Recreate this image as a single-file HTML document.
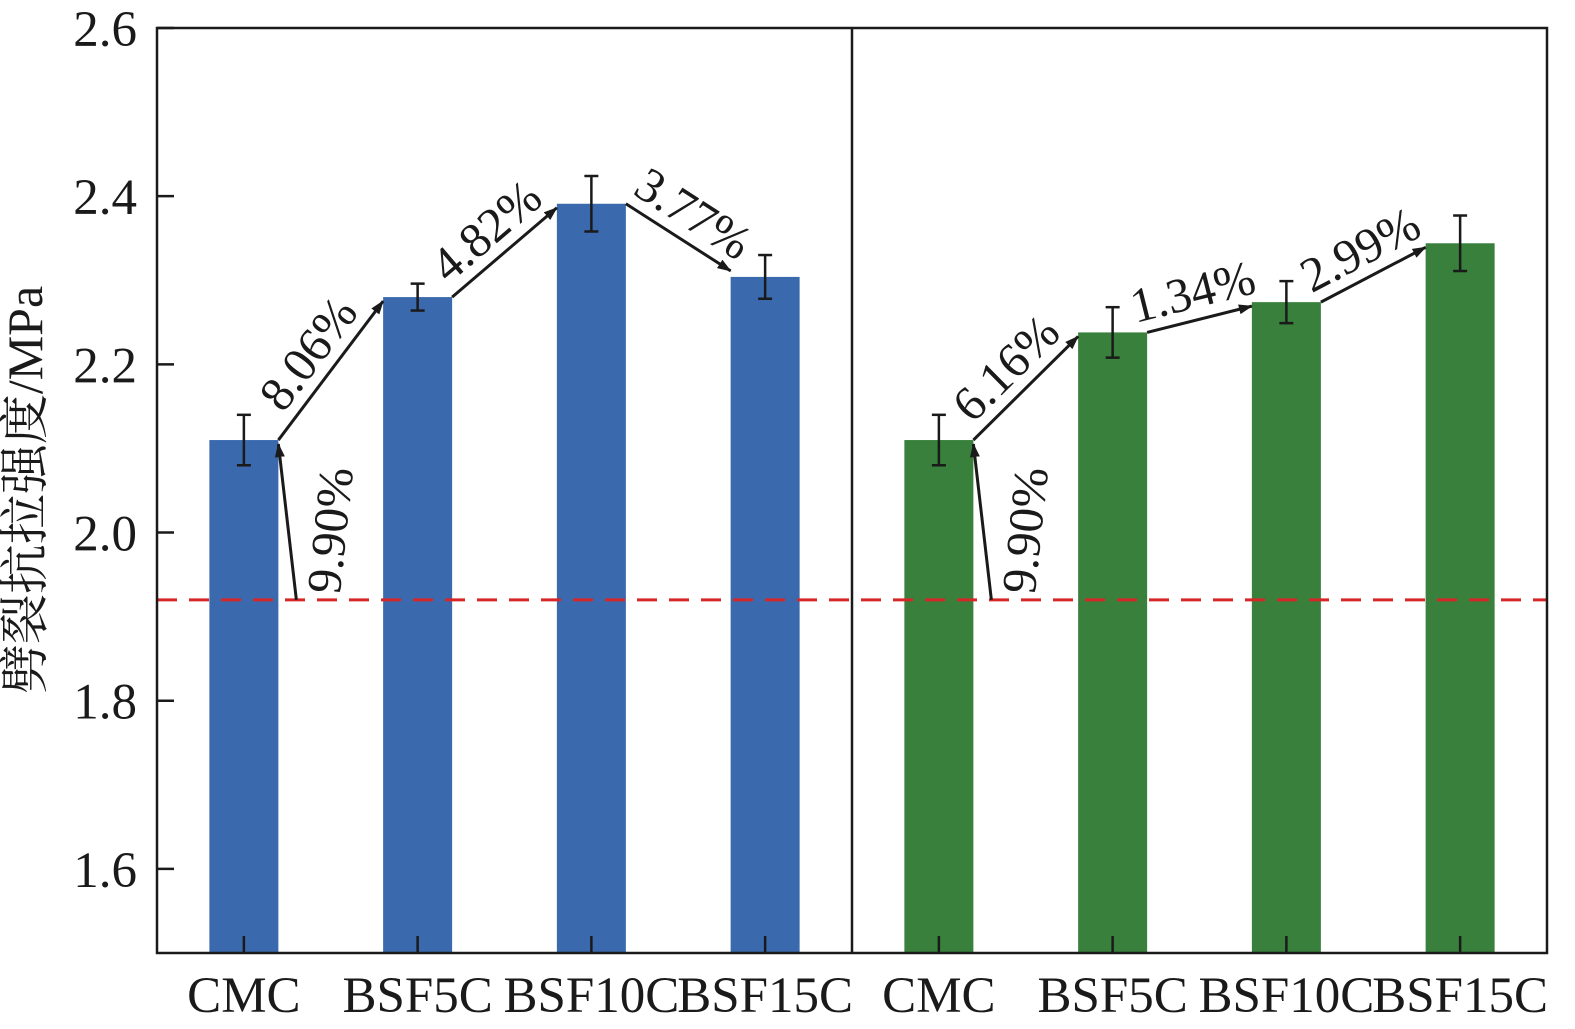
<!DOCTYPE html>
<html><head><meta charset="utf-8"><style>
html,body{margin:0;padding:0;background:#fff;overflow:hidden;width:1575px;height:1029px}
svg{display:block}
svg text{font-family:"Liberation Serif","Noto Serif CJK SC",serif;fill:#1a1a1a}
</style></head><body>
<svg id="chart" width="1575" height="1029" viewBox="0 0 1575 1029" xmlns="http://www.w3.org/2000/svg"></svg>
<script>
const categories=["CMC","BSF5C","BSF10C","BSF15C","CMC","BSF5C","BSF10C","BSF15C"];
const values=[2.11,2.28,2.391,2.304,2.11,2.238,2.274,2.344];
const errors=[0.03,0.016,0.033,0.026,0.03,0.03,0.025,0.033];
const colors=["#3a6aad","#3a6aad","#3a6aad","#3a6aad","#38803c","#38803c","#38803c","#38803c"];
const yTicks=[1.6,1.8,2.0,2.2,2.4,2.6];
const baseline=1.92;
const incLabels=["8.06%","4.82%","3.77%","6.16%","1.34%","2.99%"];
const incFrom=[0,1,2,4,5,6];
const baseLabels=["9.90%","9.90%"];
const baseIdx=[0,4];

const NS="http://www.w3.org/2000/svg";
const svg=document.getElementById('chart');
const L=157,R=1547,T=28,B=953,yMin=1.5,yMax=2.6;
const y=v=>B-(v-yMin)/(yMax-yMin)*(B-T);
const slot=(R-L)/categories.length;
const x=i=>L+slot*(i+0.5);
const bw=69;
function el(tag,a,parent){const e=document.createElementNS(NS,tag);for(const k in a)e.setAttribute(k,a[k]);(parent||svg).appendChild(e);return e;}
const defs=el('defs',{});
const m=el('marker',{id:'ah',markerWidth:14,markerHeight:10,refX:13,refY:5,orient:'auto',markerUnits:'userSpaceOnUse'},defs);
el('path',{d:'M0,0 L14,5 L0,10 Z',fill:'#1a1a1a'},m);

categories.forEach((c,i)=>{
  const b=el('rect',{x:x(i)-bw/2,y:y(values[i]),width:bw,height:B-y(values[i]),fill:colors[i]});
  
  
  const g=el('g',{stroke:'#1a1a1a','stroke-width':2.5});
  
  
  const t=y(values[i]+errors[i]),bo=y(values[i]-errors[i]);
  el('line',{x1:x(i),x2:x(i),y1:t,y2:bo},g);
  el('line',{x1:x(i)-7,x2:x(i)+7,y1:t,y2:t},g);
  el('line',{x1:x(i)-7,x2:x(i)+7,y1:bo,y2:bo},g);
  const tk=el('line',{x1:x(i),x2:x(i),y1:B,y2:B-17,stroke:'#1a1a1a','stroke-width':2.5});
  
  
  const lb=el('text',{x:x(i),y:1012,'text-anchor':'middle','font-size':51});
  lb.textContent=c;
  
  
});
const bl=el('line',{x1:L,x2:R,y1:y(baseline),y2:y(baseline),stroke:'#d62728','stroke-width':3,'stroke-dasharray':'20,12'});


const ax=el('rect',{x:L,y:T,width:R-L,height:B-T,fill:'none',stroke:'#1a1a1a','stroke-width':2.5});


const dv=el('line',{x1:(L+R)/2,x2:(L+R)/2,y1:T,y2:B,stroke:'#1a1a1a','stroke-width':2.5});


yTicks.forEach(v=>{
  const tk=el('line',{x1:L,x2:L+17,y1:y(v),y2:y(v),stroke:'#1a1a1a','stroke-width':2.5});
  
  
  const t=el('text',{x:137,y:y(v)+18,'text-anchor':'end','font-size':51});
  t.textContent=v.toFixed(1);
  
  
});
const yt=el('text',{transform:'translate(42,490) rotate(-90)','text-anchor':'middle','font-size':50});
yt.textContent='劈裂抗拉强度/MPa';


incFrom.forEach((i,k)=>{
  const x1=x(i)+bw/2,y1=y(values[i]),x2=x(i+1)-bw/2,y2=y(values[i+1])+(values[i+1]>values[i]?4:-6);
  const a=el('line',{x1,y1,x2,y2,stroke:'#1a1a1a','stroke-width':3,'marker-end':'url(#ah)'});
  
  
  const ang=Math.atan2(y2-y1,x2-x1)*180/Math.PI;
  const mx=(x1+x2)/2,my=(y1+y2)/2;
  const t=el('text',{transform:`translate(${mx},${my}) rotate(${ang}) translate(0,-12)`,'text-anchor':'middle','font-size':49});
  t.textContent=incLabels[k];
  
  
});
baseIdx.forEach((i,k)=>{
  const x1=x(i)+bw/2+18,y1=y(baseline),x2=x(i)+bw/2,y2=y(values[i])+4;
  const a=el('line',{x1,y1,x2,y2,stroke:'#1a1a1a','stroke-width':3,'marker-end':'url(#ah)'});
  
  
  const t=el('text',{transform:`translate(${x1+50},${(y1+y2)/2+10}) rotate(-84)`,'text-anchor':'middle','font-size':49});
  t.textContent=baseLabels[k];
  
  
});
</script>
</body></html>
